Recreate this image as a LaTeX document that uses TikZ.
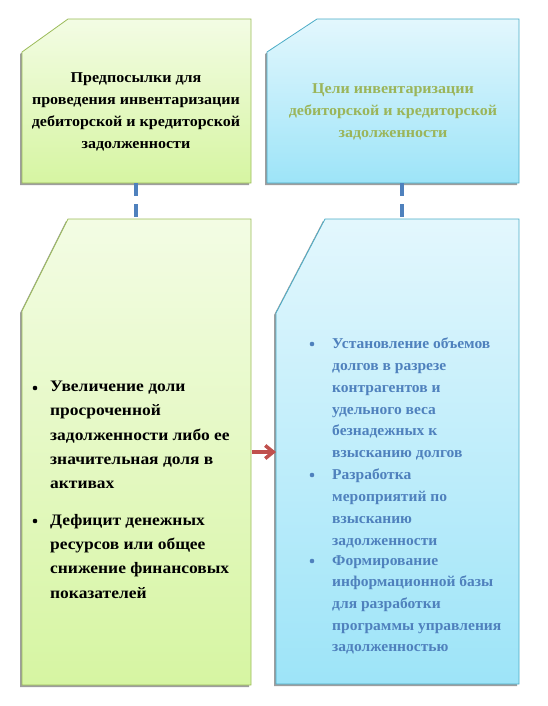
\documentclass[tikz,border=0pt]{standalone}
\usepackage{fontspec}
\setmainfont{Liberation Serif}
\newfontfamily\titlefont[FakeStretch=1.07]{Liberation Serif}
\newfontfamily\rightfont[FakeStretch=1.035]{Liberation Serif}
\newfontfamily\leftfont[FakeStretch=1.09]{Liberation Serif}
\usetikzlibrary{arrows.meta}
\definecolor{gborder}{HTML}{9BBB59}
\definecolor{gtop}{HTML}{F3FCE4}
\definecolor{gbot}{HTML}{D6F5A2}
\definecolor{bborder}{HTML}{4BACC6}
\definecolor{btop}{HTML}{E3F7FD}
\definecolor{bbot}{HTML}{9DE4F8}
\definecolor{olivetxt}{HTML}{9BB55A}
\definecolor{bluetxt}{HTML}{4F81BD}
\definecolor{conn}{HTML}{4F81BD}
\definecolor{arr}{HTML}{C0504D}
\tikzset{
  shadowfill/.style={fill=black!38},
  greenbox/.style={top color=gtop,bottom color=gbot,draw=gborder,line width=0.8pt},
  bluebox/.style={top color=btop,bottom color=bbot,draw=bborder,line width=0.8pt},
  txt/.style={font=\titlefont\bfseries\fontsize{15}{22}\selectfont,inner sep=0pt},
  listl/.style={font=\leftfont\bfseries\fontsize{16}{24.3}\selectfont,inner sep=0pt,align=left,anchor=north west},
  listr/.style={font=\rightfont\bfseries\fontsize{15}{21.7}\selectfont,inner sep=0pt,align=left,anchor=north west,text=bluetxt},
  bul/.style={circle,inner sep=0pt,minimum size=4.6pt},
  connline/.style={draw=conn,line width=4pt,dash pattern=on 13pt off 8pt},
}
\begin{document}
\begin{tikzpicture}[x=1pt,y=-1pt]
\useasboundingbox (0,0) rectangle (548,706);
% shadows
\fill[shadowfill,shift={(-2,2)}] (68,19)--(251,19)--(251,183)--(22,183)--(22,52)--cycle;
\fill[shadowfill,shift={(-2,2)}] (317,19)--(519,19)--(519,183)--(267,183)--(267,52)--cycle;
\fill[shadowfill,shift={(-2,2)}] (68,219)--(251,219)--(251,685)--(22,685)--(22,311)--cycle;
\fill[shadowfill,shift={(-2,2)}] (325,219)--(519,219)--(519,684)--(276,684)--(276,313)--cycle;
% boxes
\path[greenbox] (68,19)--(251,19)--(251,183)--(22,183)--(22,52)--cycle;
\path[bluebox] (317,19)--(519,19)--(519,183)--(267,183)--(267,52)--cycle;
\path[greenbox] (68,219)--(251,219)--(251,685)--(22,685)--(22,311)--cycle;
\path[bluebox] (325,219)--(519,219)--(519,684)--(276,684)--(276,313)--cycle;
% connection coordinates
\coordinate (tlbot) at (136,183);
\coordinate (bltop) at (136,219);
\coordinate (trbot) at (402,183);
\coordinate (brtop) at (402,219);
\coordinate (blright) at (252,452);
\coordinate (brleft) at (276,452);
\draw[connline] (tlbot) -- (bltop);
\draw[connline] (trbot) -- (brtop);
\draw[arr,line width=3.5pt,-{Straight Barb[length=8pt,width=13pt]}] (blright) -- (brleft);
% titles
\node[txt,align=center] (t1) at (136,112) {Предпосылки для\\проведения инвентаризации\\дебиторской и кредиторской\\задолженности};
\node[txt,align=center,text=olivetxt] (t2) at (393,112) {Цели инвентаризации\\дебиторской и кредиторской\\задолженности};
% left list
\node[bul,fill=black] (b1) at (35,388) {};
\node[listl] (l1) at (50,381) {Увеличение доли\\просроченной\\задолженности либо ее\\значительная доля в\\активах};
\node[bul,fill=black] (b2) at (35,521) {};
\node[listl] (l2) at (50,514) {Дефицит денежных\\ресурсов или общее\\снижение финансовых\\показателей};
% right list
\node[bul,fill=bluetxt] (b3) at (312,344) {};
\node[listr] (r1) at (332,338) {Установление объемов\\долгов в разрезе\\контрагентов и\\удельного веса\\безнадежных к\\взысканию долгов};
\node[bul,fill=bluetxt] (b4) at (312,475) {};
\node[listr] (r2) at (332,469) {Разработка\\мероприятий по\\взысканию\\задолженности};
\node[bul,fill=bluetxt] (b5) at (312,561) {};
\node[listr] (r3) at (332,555) {Формирование\\информационной базы\\для разработки\\программы управления\\задолженностью};
\end{tikzpicture}
\end{document}
